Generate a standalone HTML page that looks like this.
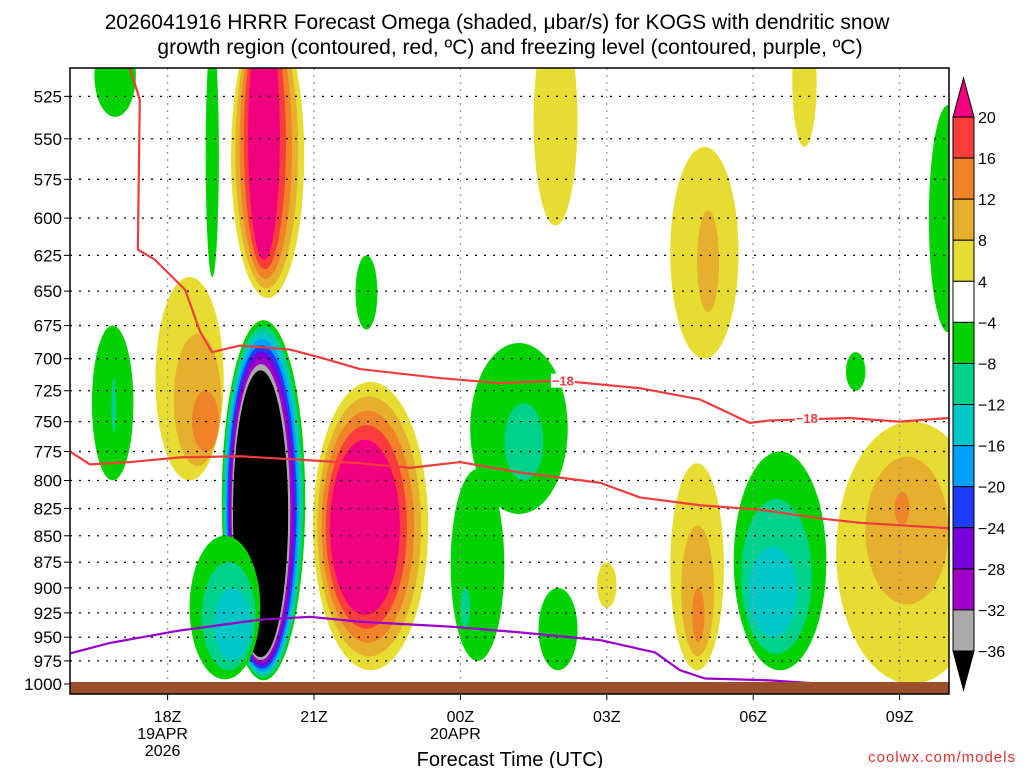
<!DOCTYPE html>
<html><head><meta charset="utf-8"><style>
html,body{margin:0;padding:0;background:#fff;}
svg{display:block;font-family:"Liberation Sans",sans-serif;}
</style></head><body>
<svg id="chart" width="1024" height="768" viewBox="0 0 1024 768">
<defs><clipPath id="pc"><rect x="70" y="68" width="879" height="626"/></clipPath></defs>
<text x="497" y="29" text-anchor="middle" font-size="21">2026041916 HRRR Forecast Omega (shaded, μbar/s) for KOGS with dendritic snow</text>
<text x="510" y="54" text-anchor="middle" font-size="21">growth region (contoured, red, ºC) and freezing level (contoured, purple, ºC)</text>
<g id="shade" clip-path="url(#pc)"></g>
<g id="grid"></g>
<g id="lines" clip-path="url(#pc)"></g>
<rect x="70" y="682" width="879" height="12" fill="#9c4f2b"/>
<rect x="70" y="68" width="879" height="626" fill="none" stroke="#000" stroke-width="1.5"/>
<g id="yaxis"></g>
<g id="xaxis"></g>
<text x="510" y="766" text-anchor="middle" font-size="20">Forecast Time (UTC)</text>
<text x="1016" y="762" text-anchor="end" font-size="15" fill="#e03030" letter-spacing="1">coolwx.com/models</text>
<g id="cbar"></g>
</svg>
<script>
const NS="http://www.w3.org/2000/svg";
const posColors=["#e6dc32","#e6af2d","#f08228","#fa3c3c","#f0007f"];
const negColors=["#00d200","#00d28c","#00c8c8","#00a0ff","#1e3cff","#7800dc","#a000c8","#aaaaaa","#000000"];
const yTicks=[525,550,575,600,625,650,675,700,725,750,775,800,825,850,875,900,925,950,975,1000];
const xTickHours=[2,5,8,11,14,17];
const xTickLabels=["18Z","21Z","00Z","03Z","06Z","09Z"];
const xTickSub=[["19APR","2026"],[],["20APR"],[],[],[]];
const blobSign=[-1,-1,1,1,1,-1,-1,-1,-1,-1,-1,-1,1,1,1,1,1,-1,-1,1,-1];
const blobLevels=[9,3,5,5,3,2,1,1,1,2,2,1,1,1,2,1,3,3,1,3,2];
const outerH1=[3.11,2.45,4.98,3.3,1.75,0.45,2.78,0.5,5.85,8.2,7.8,9.6,9.5,10.8,12.3,14.8,12.3,13.6,15.9,15.7,17.6];
const outerH2=[4.82,3.9,7.34,4.8,3.15,1.3,3.05,1.35,6.3,10.2,8.9,10.4,10.4,11.2,13.7,15.3,13.4,15.5,16.3,18.8,18.4];
const outerP1=[671,850,718,480,640,675,490,490,625,688,790,900,480,875,555,480,785,775,695,750,530];
const outerP2=[996,995,985,655,800,800,640,537,678,830,975,985,605,920,700,555,985,985,725,1000,680];
const innerH1=[3.34,2.95,5.33,3.65,2.5,0.85,2.78,0.5,5.85,8.9,8.0,9.6,9.5,10.8,12.85,14.8,12.75,13.9,15.9,16.9,18.0];
const innerH2=[4.47,3.7,6.76,4.3,3.05,0.95,3.05,1.35,6.3,9.7,8.2,10.4,10.4,11.2,13.3,15.3,13.0,14.9,16.3,17.2,18.4];
const innerP1=[709,900,765,480,725,715,490,490,625,735,900,900,480,875,595,480,900,860,695,810,560];
const innerP2=[971,975,927,628,775,760,640,537,678,800,940,985,605,920,665,555,955,950,725,840,650];
const iso18aH=[0,1.23,1.43,1.39,1.74,2.36,2.66,2.91,3.48,4.51,5.12,5.94,7.58,8.81,10.04,11.68,12.91,13.93,14.34,15.98,17.0,18.01];
const iso18aP=[505,509,527,621,628,649,679,695,690,693,699,708,715,719,717,723,732,751,749,747,750,747];
const iso18bH=[0,0.41,1.23,2.25,3.48,4.71,5.94,6.97,7.99,9.22,10.86,11.68,12.91,14.14,15.37,16.19,18.01];
const iso18bP=[775,786,784,780,779,782,785,789,784,793,802,815,822,826,834,838,843];
const frzH=[0,0.82,2.25,3.89,4.92,5.94,7.79,9.22,10.86,11.99,12.5,13.01,14.34,15.78,16.91];
const frzP=[967,956,943,932,929,934,939,945,953,966,985,994,996,1001,1003];
const cbarLevels=["20","16","12","8","4","−4","−8","−12","−16","−20","−24","−28","−32","−36"];
const cbarColors=["#fa3c3c","#f08228","#e6af2d","#e6dc32","#ffffff","#00d200","#00d28c","#00c8c8","#00a0ff","#1e3cff","#7800dc","#a000c8","#aaaaaa"];

const X=h=>70+48.8*h;
const Y=p=>684-912*(Math.log(1000)-Math.log(p));
function mk(tag,attrs,parent){const e=document.createElementNS(NS,tag);for(const k in attrs)e.setAttribute(k,attrs[k]);parent.appendChild(e);return e;}

const shade=document.getElementById('shade');
for(let b=0;b<blobSign.length;b++){
  const n=blobLevels[b];
  const ox1=X(outerH1[b]),ox2=X(outerH2[b]),oy1=Y(outerP1[b]),oy2=Y(outerP2[b]);
  const ix1=X(innerH1[b]),ix2=X(innerH2[b]),iy1=Y(innerP1[b]),iy2=Y(innerP2[b]);
  for(let k=0;k<n;k++){
    const t=n===1?0:k/(n-1);
    const x1=ox1+(ix1-ox1)*t,x2=ox2+(ix2-ox2)*t,y1=oy1+(iy1-oy1)*t,y2=oy2+(iy2-oy2)*t;
    const col=blobSign[b]>0?posColors[k]:negColors[k];
    const e=mk('ellipse',{cx:(x1+x2)/2,cy:(y1+y2)/2,rx:(x2-x1)/2,ry:(y2-y1)/2,fill:col},shade);
    
    
  }
}
const grid=document.getElementById('grid');
const yaxis=document.getElementById('yaxis');
yTicks.forEach(p=>{
  const y=Y(p);
  const l=mk('line',{x1:70,x2:949,y1:y,y2:y,stroke:'#000','stroke-width':1.3,'stroke-dasharray':'2,7'},grid);
  
  
  mk('line',{x1:64,x2:70,y1:y,y2:y,stroke:'#000'},yaxis);
  const t=mk('text',{x:62,y:y+6,'text-anchor':'end','font-size':17},yaxis);
  t.textContent=p;
  
  
});
const xaxis=document.getElementById('xaxis');
xTickHours.forEach((h,i)=>{
  const x=X(h);
  const l=mk('line',{x1:x,x2:x,y1:68,y2:694,stroke:'#999','stroke-width':1.3,'stroke-dasharray':'2,5'},grid);
  
  
  mk('line',{x1:x,x2:x,y1:694,y2:700,stroke:'#000'},xaxis);
  const t=mk('text',{x:x,y:722,'text-anchor':'middle','font-size':16},xaxis);
  t.textContent=xTickLabels[i];
  
  
  xTickSub[i].forEach((s,j)=>{
    const u=mk('text',{x:x-5,y:739+j*17,'text-anchor':'middle','font-size':16},xaxis);
    u.textContent=s;
    
    
  });
});
const lines=document.getElementById('lines');
function poly(H,P,color,name){
  const pts=H.map((h,i)=>X(h)+','+Y(P[i])).join(' ');
  const e=mk('polyline',{points:pts,fill:'none',stroke:color,'stroke-width':2.2,'stroke-linejoin':'round'},lines);
  
  
}
poly(iso18aH,iso18aP,'#f03c3c','isotherm-minus18-upper');
poly(iso18bH,iso18bP,'#f03c3c','isotherm-minus18-lower');
poly(frzH,frzP,'#9a00cc','freezing-level');
[[10.1,717],[15.1,747]].forEach(([h,p])=>{
  const x=X(h),y=Y(p);
  mk('rect',{x:x-12,y:y-7,width:24,height:14,fill:'#fff'},lines);
  const t=mk('text',{x:x,y:y+5,'text-anchor':'middle','font-size':13,'font-weight':'bold',fill:'#f03c3c'},lines);
  t.textContent='−18';
  
  
});
const cbar=document.getElementById('cbar');
const cy0=117,cstep=(651-117)/13,cx1=953,cx2=974;
mk('polygon',{points:`${cx1},${cy0} ${cx2},${cy0} ${(cx1+cx2)/2},78`,fill:'#f0007f',stroke:'#000'},cbar);
cbarColors.forEach((c,i)=>{
  mk('rect',{x:cx1,y:cy0+i*cstep,width:cx2-cx1,height:cstep,fill:c,stroke:'#000'},cbar);
});
mk('polygon',{points:`${cx1},651 ${cx2},651 ${(cx1+cx2)/2},690`,fill:'#000',stroke:'#000'},cbar);
cbarLevels.forEach((s,i)=>{
  const t=mk('text',{x:978,y:cy0+i*cstep+6,'font-size':16},cbar);
  t.textContent=s;
  
  
});
</script>
</body></html>
